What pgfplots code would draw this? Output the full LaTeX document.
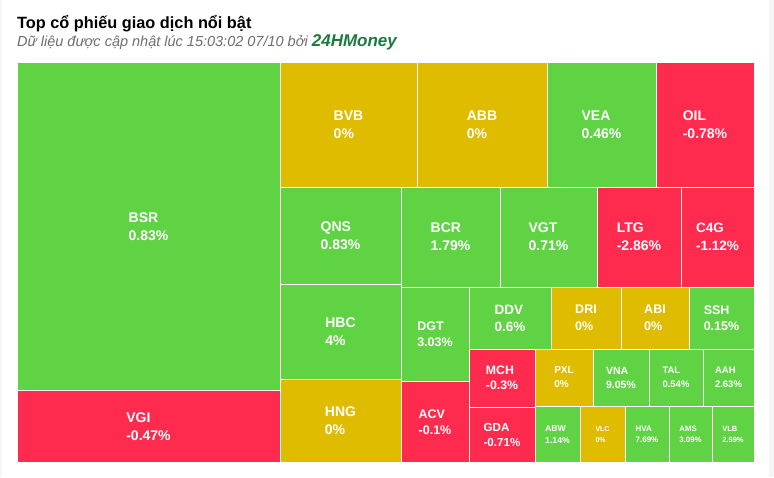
\documentclass[border=0pt]{standalone}
\usepackage{pgfplots}
\pgfplotsset{compat=1.18}
\usepackage{fontspec}
\setmainfont{Liberation Sans}
\definecolor{tg}{RGB}{96,211,69}
\definecolor{ty}{RGB}{224,188,0}
\definecolor{tr}{RGB}{255,43,79}
\definecolor{brand}{RGB}{27,122,62}
\definecolor{sub}{RGB}{110,110,110}
\definecolor{pagebg}{RGB}{246,246,246}
% x1 y1 x2 y2 colour name value fontsize baselineskip
\newcommand{\tile}[9]{%
  \addplot[fill=#5, draw=white, line width=0.9pt] coordinates {(#1,#2) (#3,#2) (#3,#4) (#1,#4)} -- cycle;
  \node[anchor=center, inner sep=0pt, align=left, text=white,
        font=\bfseries\fontsize{#8}{#9}\selectfont]
        at (axis cs:{(#1+#3)/2},{(#2+#4)/2}) {#6\\#7};
}
\begin{document}
\begin{tikzpicture}
\begin{axis}[
  width=774pt, height=477pt, scale only axis,
  xmin=0, xmax=774, ymin=0, ymax=477, y dir=reverse,
  hide axis, clip=false]
\addplot[fill=pagebg, draw=none] coordinates {(0,0) (774,0) (774,477) (0,477)} -- cycle;
\addplot[fill=white, draw=none] coordinates {(2,0) (769,0) (769,477) (2,477)} -- cycle;
\node[anchor=base west, inner sep=0pt, font=\bfseries\fontsize{16.3}{18}\selectfont]
  at (axis cs:17,28) {Top cổ phiếu giao dịch nổi bật};
\node[anchor=base west, inner sep=0pt, font=\itshape\fontsize{14.5}{16}\selectfont, text=sub]
  at (axis cs:17,46.5) {Dữ liệu được cập nhật lúc 15:03:02 07/10 bởi {\bfseries\color{brand}\fontsize{17}{18}\selectfont 24HMoney}};
\tile{17}{62.5}{280}{390}{tg}{BSR}{0.83\%}{14}{18}
\tile{17}{390}{280}{462.5}{tr}{VGI}{-0.47\%}{14}{18}
\tile{280}{62.5}{417}{187}{ty}{BVB}{0\%}{14}{18}
\tile{417}{62.5}{547}{187}{ty}{ABB}{0\%}{14}{18}
\tile{547}{62.5}{656}{187}{tg}{VEA}{0.46\%}{14}{18}
\tile{656}{62.5}{754}{187}{tr}{OIL}{-0.78\%}{14}{18}
\tile{280}{187}{401}{284}{tg}{QNS}{0.83\%}{14}{18}
\tile{280}{284}{401}{379}{tg}{HBC}{4\%}{14}{18}
\tile{280}{379}{401}{462.5}{ty}{HNG}{0\%}{14}{18}
\tile{401}{187}{500}{287}{tg}{BCR}{1.79\%}{14}{18}
\tile{500}{187}{597}{287}{tg}{VGT}{0.71\%}{14}{18}
\tile{597}{187}{681}{287}{tr}{LTG}{-2.86\%}{14}{18}
\tile{681}{187}{754}{287}{tr}{C4G}{-1.12\%}{13.5}{17.5}
\tile{401}{287}{469}{381}{tg}{DGT}{3.03\%}{12.5}{15.5}
\tile{401}{381}{469}{462.5}{tr}{ACV}{-0.1\%}{12.5}{16}
\tile{469}{287}{551}{349}{tg}{DDV}{0.6\%}{13.5}{17}
\tile{551}{287}{621}{349}{ty}{DRI}{0\%}{12.5}{16.5}
\tile{621}{287}{689}{349}{ty}{ABI}{0\%}{12.5}{16.5}
\tile{689}{287}{754}{349}{tg}{SSH}{0.15\%}{12.5}{16.5}
\tile{469}{349}{535}{407}{tr}{MCH}{-0.3\%}{12.3}{15.5}
\tile{469}{407}{535}{462.5}{tr}{GDA}{-0.71\%}{11.6}{15}
\tile{535}{349}{593}{406}{ty}{PXL}{0\%}{10}{14}
\tile{593}{349}{649}{406}{tg}{VNA}{9.05\%}{10.5}{14}
\tile{649}{349}{703}{406}{tg}{TAL}{0.54\%}{9.5}{13.5}
\tile{703}{349}{754}{406}{tg}{AAH}{2.63\%}{9.5}{13.5}
\tile{535}{406}{580}{462.5}{tg}{ABW}{1.14\%}{8.7}{12}
\tile{580}{406}{625}{462.5}{ty}{VLC}{0\%}{7}{11}
\tile{625}{406}{669}{462.5}{tg}{HVA}{7.69\%}{8}{11.5}
\tile{669}{406}{712}{462.5}{tg}{AMS}{3.09\%}{7.8}{11.5}
\tile{712}{406}{754}{462.5}{tg}{VLB}{2.59\%}{7.5}{11.5}
\end{axis}
\end{tikzpicture}
\end{document}
